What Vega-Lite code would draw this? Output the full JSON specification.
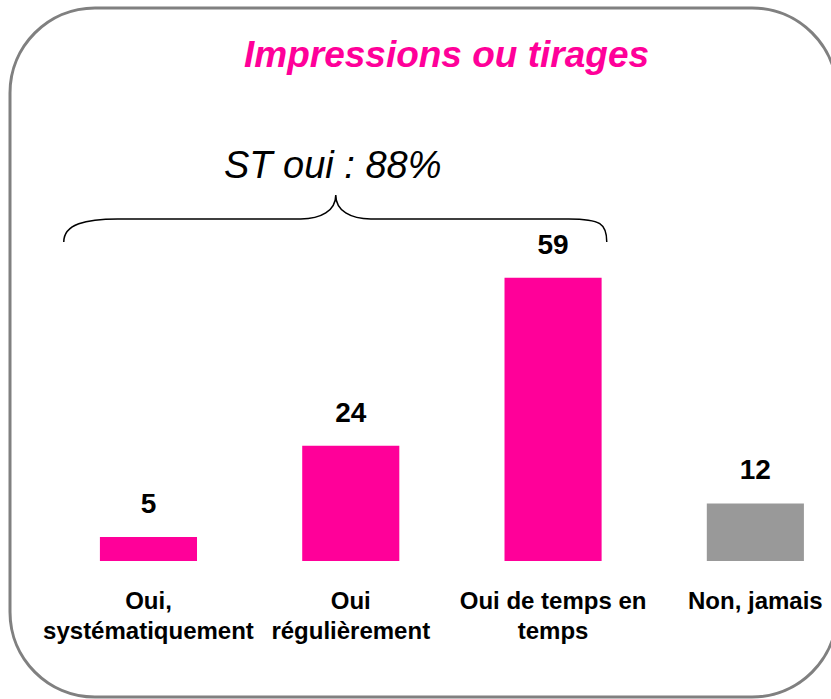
{
  "$schema": "https://vega.github.io/schema/vega-lite/v6.json",
  "width": 827,
  "height": 689,
  "autosize": {"type": "none"},
  "padding": {"left": 10, "top": 8, "right": -6, "bottom": 2},
  "background": "white",
  "config": {
    "font": "Liberation Sans",
    "view": {"stroke": "#808080", "strokeWidth": 3, "cornerRadius": 85}
  },
  "title": {
    "text": "Impressions ou tirages",
    "orient": "top",
    "anchor": "middle",
    "frame": "group",
    "offset": -96,
    "dx": 23,
    "baseline": "alphabetic",
    "fontSize": 37,
    "fontWeight": "bold",
    "fontStyle": "italic",
    "color": "#FF0099",
    "font": "Liberation Sans"
  },
  "data": {
    "values": [
      {"cat": "Oui,\nsystématiquement", "v": 5, "grp": "oui"},
      {"cat": "Oui\nrégulièrement", "v": 24, "grp": "oui"},
      {"cat": "Oui de temps en\ntemps", "v": 59, "grp": "oui"},
      {"cat": "Non, jamais", "v": 12, "grp": "non"}
    ]
  },
  "encoding": {
    "x": {
      "field": "cat",
      "type": "nominal",
      "sort": null,
      "axis": null,
      "scale": {"type": "band", "paddingInner": 0.52, "paddingOuter": 0.304, "align": 0.731}
    }
  },
  "layer": [
    {
      "mark": {"type": "bar"},
      "encoding": {
        "y": {"field": "v", "type": "quantitative", "axis": null, "scale": {"domain": [-28.33, 115.2], "nice": false, "zero": false}},
        "y2": {"datum": 0},
        "color": {"field": "grp", "type": "nominal", "legend": null, "scale": {"domain": ["oui", "non"], "range": ["#FF0099", "#999999"]}}
      }
    },
    {
      "mark": {"type": "text", "fontSize": 28, "fontWeight": "bold", "baseline": "alphabetic", "dy": -24, "color": "black"},
      "encoding": {
        "y": {"field": "v", "type": "quantitative"},
        "text": {"field": "v", "type": "quantitative"}
      }
    },
    {
      "mark": {"type": "text", "fontSize": 24, "fontWeight": "bold", "baseline": "alphabetic", "lineBreak": "\n", "lineHeight": 30, "color": "black"},
      "encoding": {
        "y": {"datum": -10, "type": "quantitative"},
        "text": {"field": "cat", "type": "nominal"}
      }
    },
    {
      "data": {"values": [{"cat": "Oui\nrégulièrement", "lab": "ST oui : 88%", "ypos": 79.8, "ybrace": 71.25}]},
      "layer": [
        {
          "mark": {"type": "text", "fontSize": 38, "fontStyle": "italic", "baseline": "alphabetic", "dx": -18, "color": "black"},
          "encoding": {
            "y": {"field": "ypos", "type": "quantitative"},
            "text": {"field": "lab", "type": "nominal"}
          }
        },
        {
          "mark": {
            "type": "point",
            "shape": "M -287 23 C -287 5 -265 0 -233 0 L -50 0 C -30 0 -15 -8 -15 -24 C -15 -8 0 0 20 0 L 218 0 C 250 0 256 5 256 23",
            "size": 4,
            "filled": false,
            "stroke": "black",
            "strokeWidth": 1.5,
            "opacity": 1
          },
          "encoding": {
            "y": {"field": "ybrace", "type": "quantitative"}
          }
        }
      ]
    }
  ]
}
